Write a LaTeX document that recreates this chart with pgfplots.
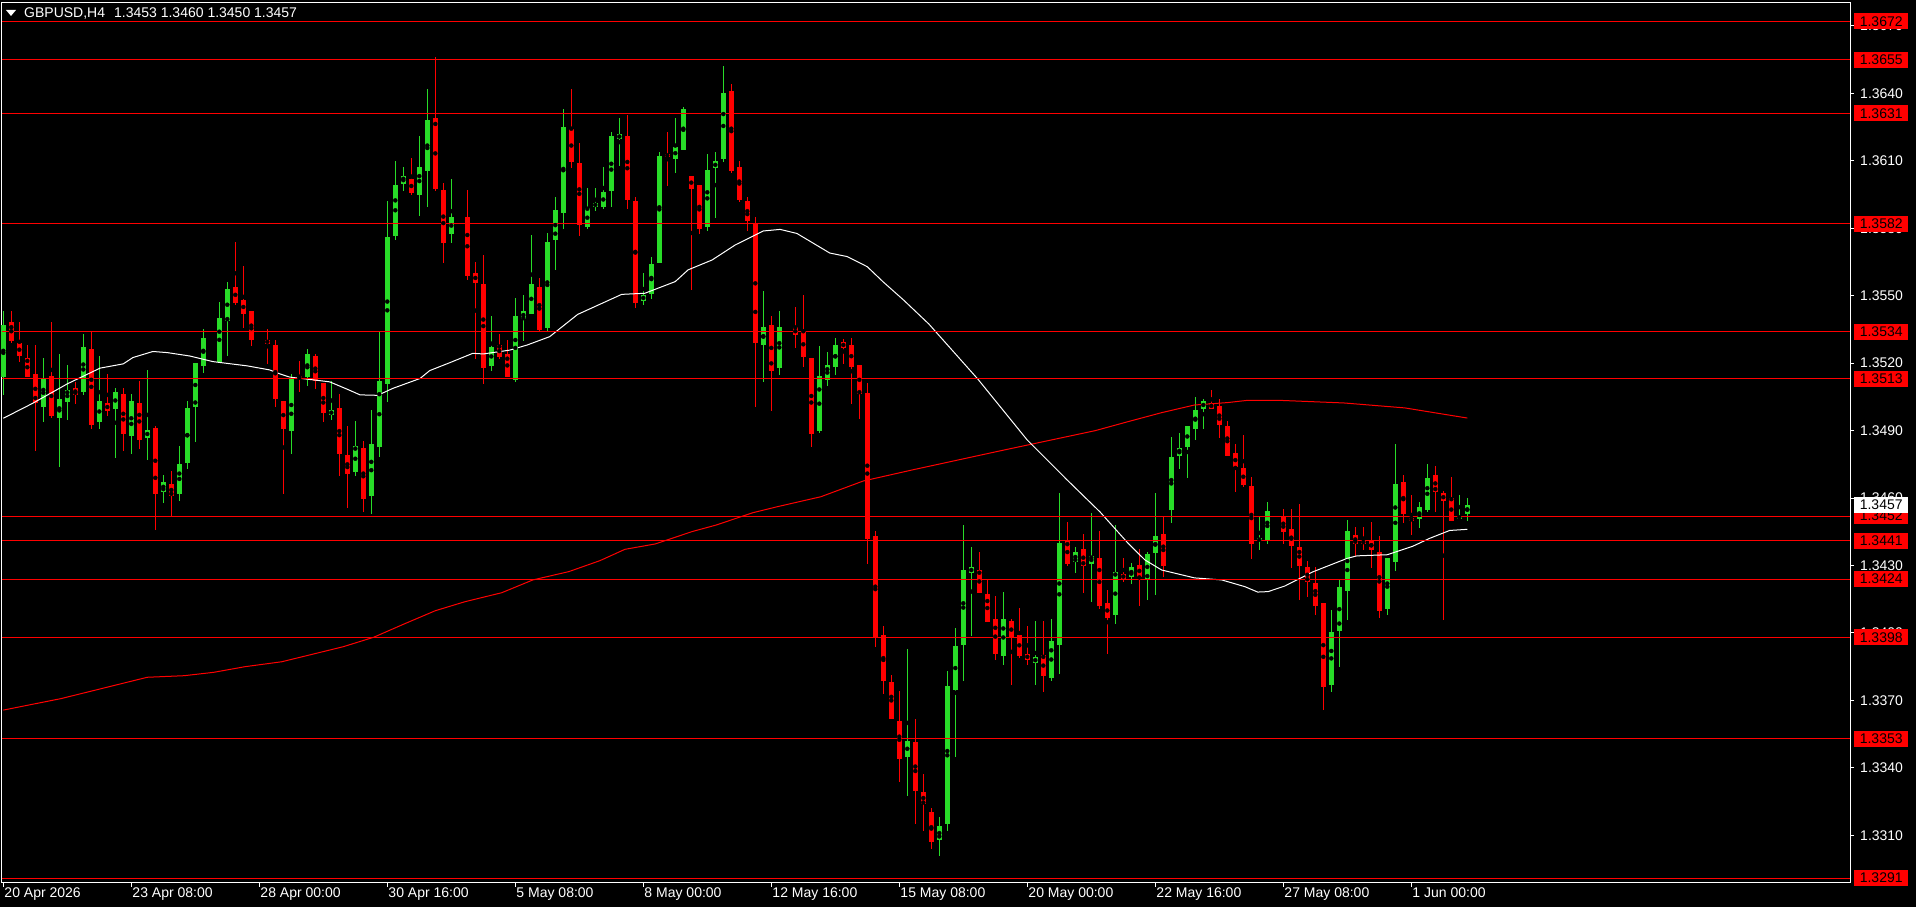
\documentclass[border=0pt]{standalone}
\usepackage{fontspec}
\setmainfont{Liberation Sans}
\usepackage{pgfplots}
\usepackage{pgfplotstable}
\pgfplotsset{compat=1.18}
\definecolor{bull}{RGB}{40,220,40}
\definecolor{bear}{RGB}{255,0,0}
\definecolor{lvl}{RGB}{255,0,0}

% GBPUSD H4 bars: index, open, high, low, close
\pgfplotstableread{
i o h l c
0 1.35141 1.35433 1.35060 1.35370
5 1.35007 1.35224 1.34940 1.35130
7 1.34958 1.35240 1.34740 1.35041
8 1.35030 1.35192 1.34948 1.35081
10 1.35070 1.35330 1.35060 1.35273
12 1.34940 1.35233 1.34909 1.35032
14 1.34997 1.35090 1.34780 1.35072
16 1.34878 1.35063 1.34798 1.35032
18 1.34869 1.35170 1.34771 1.34903
20 1.34629 1.34703 1.34580 1.34672
22 1.34620 1.34832 1.34589 1.34752
23 1.34758 1.35032 1.34731 1.35001
24 1.35007 1.35201 1.34851 1.35201
25 1.35190 1.35353 1.35158 1.35313
27 1.35207 1.35473 1.35207 1.35402
28 1.35390 1.35562 1.35230 1.35531
36 1.34899 1.35152 1.34798 1.35130
38 1.35139 1.35264 1.35101 1.35241
41 1.34967 1.35121 1.34949 1.34992
44 1.34718 1.34943 1.34700 1.34832
46 1.34609 1.34992 1.34532 1.34840
47 1.34828 1.35343 1.34781 1.35121
48 1.35110 1.35921 1.35029 1.35761
49 1.35767 1.36099 1.35749 1.35992
50 1.35998 1.36073 1.35967 1.36032
52 1.35949 1.36210 1.35856 1.36073
53 1.36056 1.36419 1.35896 1.36282
56 1.35776 1.36019 1.35736 1.35850
61 1.35189 1.35410 1.35167 1.35272
64 1.35127 1.35490 1.35118 1.35410
65 1.35398 1.35503 1.35300 1.35432
66 1.35420 1.35770 1.35420 1.35552
68 1.35358 1.35779 1.35340 1.35739
69 1.35748 1.35939 1.35615 1.35882
70 1.35868 1.36331 1.35798 1.36251
73 1.35807 1.35979 1.35798 1.35890
74 1.35895 1.35979 1.35877 1.35913
75 1.35895 1.36073 1.35886 1.35962
76 1.35966 1.36228 1.35895 1.36211
77 1.36197 1.36291 1.36077 1.36220
80 1.35478 1.35601 1.35460 1.35505
81 1.35509 1.35672 1.35487 1.35641
82 1.35647 1.36140 1.35647 1.36122
84 1.36108 1.36291 1.36046 1.36162
85 1.36148 1.36340 1.36148 1.36331
88 1.35807 1.36131 1.35790 1.36059
89 1.36068 1.36140 1.35847 1.36099
90 1.36108 1.36522 1.36095 1.36402
95 1.35279 1.35520 1.35118 1.35361
97 1.35182 1.35432 1.35148 1.35361
102 1.34898 1.35279 1.34889 1.35143
103 1.35125 1.35248 1.35098 1.35191
104 1.35182 1.35311 1.35148 1.35282
113 1.33450 1.33927 1.33273 1.33523
117 1.33080 1.33181 1.33009 1.33141
118 1.33151 1.33830 1.33120 1.33764
119 1.33747 1.34022 1.33449 1.33942
120 1.33948 1.34480 1.33787 1.34280
121 1.34268 1.34382 1.33988 1.34293
125 1.33899 1.34182 1.33859 1.34062
129 1.33867 1.34053 1.33770 1.33893
131 1.33801 1.34062 1.33787 1.33964
132 1.33947 1.34622 1.33818 1.34400
134 1.34317 1.34382 1.34268 1.34360
136 1.34308 1.34533 1.34139 1.34342
139 1.34082 1.34480 1.34042 1.34271
141 1.34249 1.34311 1.34218 1.34294
143 1.34240 1.34360 1.34148 1.34351
144 1.34356 1.34623 1.34169 1.34432
146 1.34547 1.34872 1.34491 1.34783
147 1.34787 1.34890 1.34730 1.34823
148 1.34827 1.34921 1.34691 1.34921
149 1.34908 1.35050 1.34859 1.34992
150 1.34997 1.35041 1.34908 1.35032
157 1.34409 1.34522 1.34369 1.34423
158 1.34409 1.34583 1.34396 1.34543
166 1.33770 1.34102 1.33739 1.34004
167 1.34010 1.34235 1.33850 1.34204
168 1.34188 1.34502 1.34059 1.34453
173 1.34108 1.34333 1.34081 1.34333
174 1.34317 1.34840 1.34277 1.34662
177 1.34507 1.34582 1.34468 1.34560
178 1.34548 1.34751 1.34539 1.34693
182 1.34508 1.34613 1.34508 1.34520
183 1.34530 1.34600 1.34500 1.34570
}\bullbars

\pgfplotstableread{
i o h l c
1 1.35384 1.35433 1.35289 1.35301
2 1.35290 1.35384 1.35207 1.35230
3 1.35224 1.35280 1.35141 1.35141
4 1.35152 1.35280 1.34811 1.35022
6 1.35144 1.35384 1.34958 1.34967
9 1.35090 1.35118 1.35020 1.35060
11 1.35264 1.35344 1.34909 1.34927
13 1.35023 1.35152 1.34967 1.34988
15 1.35063 1.35090 1.34811 1.34887
17 1.35023 1.35121 1.34820 1.34860
19 1.34912 1.34921 1.34460 1.34620
21 1.34663 1.34721 1.34518 1.34611
29 1.35539 1.35740 1.35461 1.35470
30 1.35482 1.35633 1.35359 1.35421
31 1.35433 1.35433 1.35278 1.35301
33 1.35304 1.35353 1.35198 1.35287
34 1.35281 1.35304 1.35007 1.35038
35 1.35032 1.35032 1.34620 1.34908
37 1.35144 1.35210 1.35070 1.35130
39 1.35233 1.35241 1.35087 1.35121
40 1.35112 1.35112 1.34940 1.34980
42 1.35001 1.35063 1.34700 1.34798
43 1.34792 1.34921 1.34558 1.34709
45 1.34823 1.34854 1.34540 1.34598
51 1.36019 1.36113 1.35949 1.35958
54 1.36290 1.36563 1.35967 1.35976
55 1.35970 1.36001 1.35647 1.35736
58 1.35850 1.35970 1.35571 1.35589
59 1.35601 1.35650 1.35220 1.35557
60 1.35552 1.35681 1.35109 1.35180
62 1.35281 1.35330 1.35220 1.35229
63 1.35241 1.35303 1.35140 1.35140
67 1.35539 1.35579 1.35340 1.35349
71 1.36242 1.36420 1.36068 1.36095
72 1.36091 1.36180 1.35766 1.35816
78 1.36211 1.36304 1.35886 1.35926
79 1.35922 1.35939 1.35447 1.35469
83 1.36131 1.36228 1.35988 1.36119
86 1.36033 1.36033 1.35526 1.35975
87 1.35993 1.35993 1.35776 1.35798
91 1.36411 1.36442 1.36046 1.36055
92 1.36072 1.36099 1.35917 1.35926
93 1.35922 1.35940 1.35788 1.35831
94 1.35822 1.35849 1.35007 1.35289
96 1.35370 1.35409 1.34989 1.35166
99 1.35361 1.35450 1.35270 1.35325
100 1.35343 1.35504 1.35182 1.35227
101 1.35223 1.35223 1.34830 1.34885
105 1.35293 1.35311 1.35196 1.35270
106 1.35282 1.35311 1.35018 1.35182
107 1.35191 1.35191 1.34951 1.35062
108 1.35071 1.35112 1.34308 1.34420
109 1.34431 1.34453 1.33938 1.33981
110 1.33990 1.34031 1.33732 1.33788
111 1.33782 1.33813 1.33620 1.33620
112 1.33611 1.33741 1.33339 1.33441
114 1.33514 1.33620 1.33153 1.33300
115 1.33292 1.33372 1.33120 1.33240
116 1.33203 1.33221 1.33040 1.33071
122 1.34280 1.34360 1.34179 1.34179
123 1.34173 1.34235 1.34050 1.34050
124 1.34062 1.34164 1.33881 1.33907
126 1.34053 1.34062 1.33770 1.33979
127 1.33991 1.34111 1.33890 1.33899
128 1.33910 1.34031 1.33859 1.33881
130 1.33902 1.34053 1.33738 1.33810
133 1.34413 1.34493 1.34299 1.34308
135 1.34373 1.34440 1.34179 1.34299
137 1.34333 1.34453 1.34108 1.34121
138 1.34134 1.34191 1.33908 1.34068
140 1.34263 1.34334 1.34227 1.34240
142 1.34303 1.34374 1.34122 1.34249
145 1.34440 1.34522 1.34249 1.34298
151 1.35023 1.35081 1.34997 1.34997
152 1.35010 1.35041 1.34868 1.34925
153 1.34921 1.34943 1.34787 1.34787
154 1.34801 1.34841 1.34627 1.34739
155 1.34734 1.34881 1.34650 1.34658
156 1.34654 1.34694 1.34329 1.34396
160 1.34523 1.34550 1.34397 1.34450
161 1.34461 1.34550 1.34290 1.34388
162 1.34382 1.34573 1.34148 1.34299
163 1.34293 1.34320 1.34161 1.34228
164 1.34222 1.34293 1.34081 1.34121
165 1.34133 1.34133 1.33658 1.33761
169 1.34438 1.34470 1.34343 1.34397
170 1.34413 1.34470 1.34370 1.34397
171 1.34413 1.34493 1.34290 1.34370
172 1.34360 1.34431 1.34068 1.34099
175 1.34671 1.34702 1.34490 1.34530
176 1.34511 1.34613 1.34437 1.34499
179 1.34702 1.34742 1.34539 1.34628
180 1.34622 1.34631 1.34059 1.34588
181 1.34600 1.34693 1.34499 1.34499
}\bearbars

\pgfplotsset{
  wick/.style={only marks, mark=none, forget plot,
    error bars/.cd, y dir=both, y explicit, error mark=none,
    error bar style={line width=1pt, draw=#1}},
  body/.style={only marks, mark=none, forget plot,
    error bars/.cd, y dir=both, y explicit, error mark=none,
    error bar style={line width=5pt, draw=#1}},
}

\begin{document}
\begin{tikzpicture}
\useasboundingbox (0,0) rectangle (1916pt,907pt);
\fill[black] (0,0) rectangle (1916pt,907pt);

\begin{axis}[
    at={(2pt,24pt)}, anchor=south west,
    scale only axis, width=1848pt, height=880pt,
    xmin=-0.1625, xmax=230.84,
    ymin=1.32888, ymax=1.36802,
    clip=false,
    axis line style={white, line width=1pt},
    tick style={white, line width=1pt},
    tick align=outside, major tick length=4pt,
    xtick pos=bottom, ytick pos=right, yticklabel pos=right,
    xtick={0,16,...,176},
    xticklabels={20 Apr 2026, 23 Apr 08:00, 28 Apr 00:00, 30 Apr 16:00,
                 5 May 08:00, 8 May 00:00, 12 May 16:00, 15 May 08:00,
                 20 May 00:00, 22 May 16:00, 27 May 08:00, 1 Jun 00:00},
    ytick={1.3310,1.3340,1.3370,1.3400,1.3430,1.3460,1.3490,
           1.3520,1.3550,1.3580,1.3610,1.3640,1.3670},
    scaled y ticks=false,
    ticklabel style={white, font=\fontsize{14pt}{16pt}\selectfont},
    xticklabel style={anchor=north west, inner sep=0pt, xshift=1pt, yshift=-1pt},
    yticklabel style={anchor=west, inner sep=0pt, xshift=6pt,
      /pgf/number format/.cd, fixed, fixed zerofill, precision=4,
      assume math mode=true},
  ]

  % candles
  \addplot[wick=bull] table[x=i, y expr={(\thisrow{h}+\thisrow{l})/2},
    y error expr={(\thisrow{h}-\thisrow{l})/2}] {\bullbars};
  \addplot[body=bull] table[x=i, y expr={(\thisrow{o}+\thisrow{c})/2},
    y error expr={max(abs(\thisrow{c}-\thisrow{o})/2,0.00002)}] {\bullbars};
  \addplot[wick=bear] table[x=i, y expr={(\thisrow{h}+\thisrow{l})/2},
    y error expr={(\thisrow{h}-\thisrow{l})/2}] {\bearbars};
  \addplot[body=bear] table[x=i, y expr={(\thisrow{o}+\thisrow{c})/2},
    y error expr={max(abs(\thisrow{c}-\thisrow{o})/2,0.00002)}] {\bearbars};

  % slow moving average (red)
  \addplot[lvl, line width=1pt, forget plot] coordinates {
    (0,1.33657) (7.2,1.33708) (18.0,1.33803) (22.6,1.33810) (26.3,1.33825)
    (30.2,1.33850) (34.8,1.33872) (37.8,1.33898) (42.5,1.33939) (46.3,1.33981)
    (50.1,1.34040) (54.0,1.34099) (57.7,1.34139) (62.3,1.34179) (66.2,1.34236)
    (70.7,1.34273) (74.6,1.34322) (77.7,1.34372) (81.5,1.34396) (86.1,1.34451)
    (89.1,1.34480) (93.7,1.34535) (96.8,1.34562) (102.2,1.34606) (107.5,1.34676)
    (113.6,1.34725) (124.6,1.34810) (136.5,1.34900) (140.6,1.34940) (144.8,1.34980)
    (148.9,1.35014) (153.1,1.35025) (155.6,1.35035) (159.3,1.35035) (167.6,1.35023)
    (175.2,1.35001) (183.0,1.34956)};

  % fast moving average (white)
  \addplot[white, line width=1pt, forget plot] coordinates {
    (0,1.34955) (3.7,1.35022) (8.0,1.35108) (12.1,1.35178) (15.0,1.35197)
    (16.2,1.35225) (18.7,1.35252) (20.5,1.35247) (23.3,1.35232) (26.2,1.35207)
    (30.5,1.35188) (33.3,1.35170) (34.6,1.35152) (35.8,1.35138) (38.7,1.35126)
    (40.8,1.35117) (43.0,1.35084) (44.6,1.35059) (46.8,1.35057) (48.7,1.35088)
    (52.1,1.35132) (53.3,1.35167) (55.8,1.35202) (58.7,1.35244) (60.0,1.35241)
    (63.3,1.35258) (65.5,1.35281) (68.3,1.35318) (71.8,1.35417) (77.3,1.35506)
    (80.2,1.35511) (84.0,1.35563) (85.6,1.35615) (88.6,1.35659) (91.5,1.35726)
    (95.0,1.35788) (97.1,1.35795) (99.2,1.35777) (103.3,1.35690) (105.5,1.35674)
    (108.0,1.35629) (110.0,1.35561) (112.5,1.35482) (115.7,1.35374) (121.8,1.35130)
    (128.0,1.34858) (133.0,1.34680) (137.1,1.34538) (140.6,1.34399) (142.7,1.34325)
    (144.8,1.34280) (148.9,1.34245) (152.3,1.34236) (155.2,1.34206) (156.8,1.34182)
    (158.1,1.34184) (160.2,1.34209) (163.7,1.34272) (168.0,1.34332) (169.2,1.34343)
    (173.0,1.34348) (176.2,1.34386) (178.3,1.34421) (180.8,1.34456) (183.0,1.34461)};

  % horizontal levels
  \pgfplotsinvokeforeach{1.3672,1.3655,1.3631,1.3582,1.3534,1.3513,
                         1.3452,1.3441,1.3424,1.3398,1.3353,1.3291}{
    \addplot[lvl, line width=1pt, forget plot] coordinates {(-0.1625,#1) (230.84,#1)};
  }
\end{axis}

% price tags on the right scale
\foreach \v in {1.3672,1.3655,1.3631,1.3582,1.3534,1.3513,
                1.3452,1.3441,1.3424,1.3398,1.3353,1.3291}{
  \pgfmathsetmacro\yy{24+(\v-1.32888)*2248.34*10}
  \node[fill=lvl, text=black, inner sep=0pt, minimum width=54pt, minimum height=16pt,
        anchor=west, font=\fontsize{14pt}{16pt}\selectfont] at (1854pt,\yy pt) {\v};
}
\pgfmathsetmacro\yy{24+(1.3457-1.32888)*2248.34*10}
\node[fill=white, text=black, inner sep=0pt, minimum width=54pt, minimum height=16pt,
      anchor=west, font=\fontsize{14pt}{16pt}\selectfont] at (1854pt,\yy pt) {1.3457};

% header
\fill[white] (6pt,897pt) -- (16pt,897pt) -- (11pt,891pt) -- cycle;
\node[anchor=west, inner sep=0pt, text=white, font=\fontsize{14pt}{16pt}\selectfont]
  at (24pt,893.3pt) {GBPUSD,H4\hspace{9pt}1.3453 1.3460 1.3450 1.3457};
\end{tikzpicture}
\end{document}
